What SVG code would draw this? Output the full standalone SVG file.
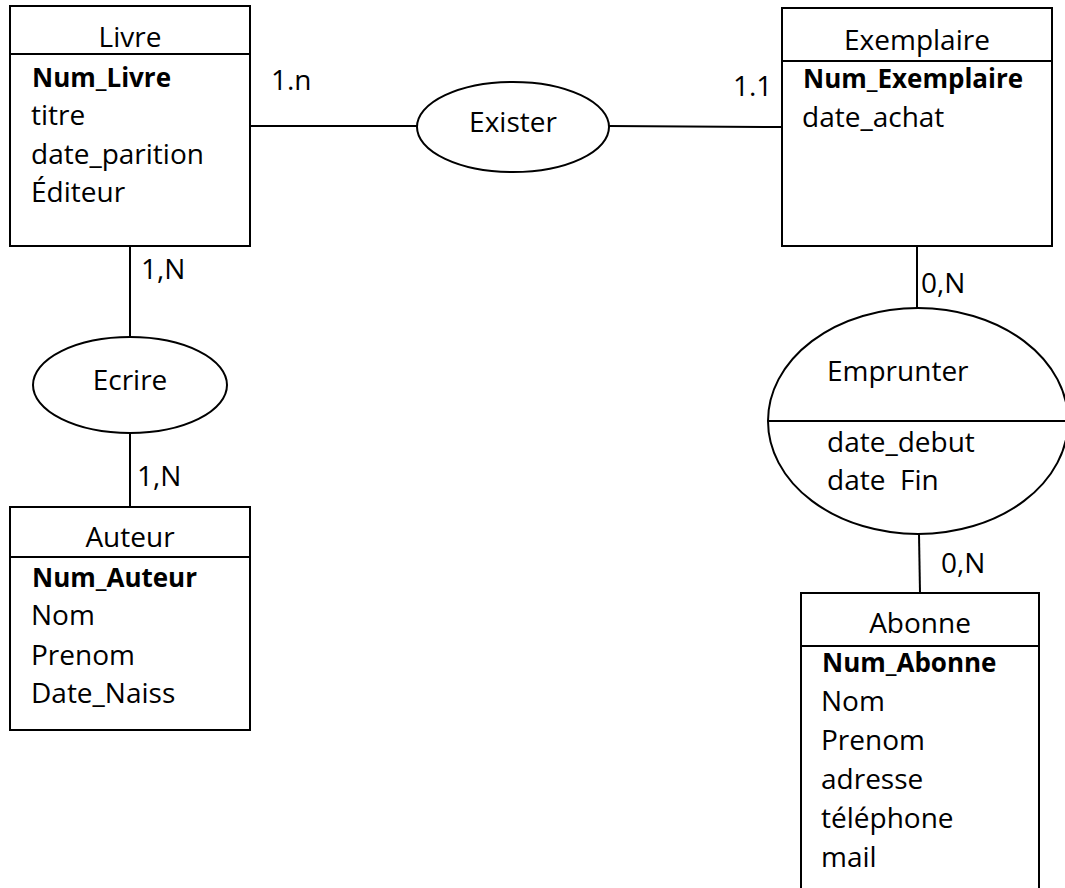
<svg xmlns="http://www.w3.org/2000/svg" width="1065" height="888" viewBox="0 0 1065 888">
<style>
text{font-family:"Open Sans","Liberation Sans",sans-serif;font-size:28px;fill:#000}
.t{text-anchor:middle}
.b{font-weight:bold;font-size:26px}
.box{fill:#fff;stroke:#000;stroke-width:2}
.ell{fill:#fff;stroke:#000;stroke-width:2}
.ln{stroke:#000;stroke-width:2;fill:none}
</style>
<rect width="1065" height="888" fill="#fff"/>
<g id="connectors">
<line class="ln" x1="250" y1="126" x2="417" y2="126"/>
<line class="ln" x1="609" y1="126" x2="783" y2="127"/>
<line class="ln" x1="130" y1="246" x2="130" y2="337"/>
<line class="ln" x1="130" y1="433" x2="130" y2="507"/>
<line class="ln" x1="917" y1="246" x2="917" y2="308"/>
<line class="ln" x1="919" y1="534" x2="920" y2="593"/>
<text x="271" y="90">1.n</text>
<text x="733" y="96">1.1</text>
<text x="141" y="279">1,N</text>
<text x="137" y="486">1,N</text>
<text x="921" y="293">0,N</text>
<text x="941" y="573">0,N</text>
</g>
<g id="livre">
<rect class="box" x="10" y="6" width="240" height="240"/>
<line class="ln" x1="10" y1="54" x2="250" y2="54"/>
<text class="t" x="130" y="47">Livre</text>
<text class="b" x="32" y="87">Num_Livre</text>
<text x="31" y="125">titre</text>
<text x="31" y="164">date_parition</text>
<text x="31" y="202">Éditeur</text>
</g>
<g id="exister">
<ellipse class="ell" cx="513" cy="127" rx="96" ry="45"/>
<text class="t" x="513" y="132">Exister</text>
</g>
<g id="exemplaire">
<rect class="box" x="782" y="8" width="270" height="238"/>
<line class="ln" x1="782" y1="61" x2="1052" y2="61"/>
<text class="t" x="917" y="50">Exemplaire</text>
<text class="b" x="803" y="88">Num_Exemplaire</text>
<text x="802" y="127">date_achat</text>
</g>
<g id="ecrire">
<ellipse class="ell" cx="130" cy="385" rx="97" ry="48"/>
<text class="t" x="130" y="390">Ecrire</text>
</g>
<g id="auteur">
<rect class="box" x="10" y="507" width="240" height="223"/>
<line class="ln" x1="10" y1="557" x2="250" y2="557"/>
<text class="t" x="130" y="547">Auteur</text>
<text class="b" x="32" y="587">Num_Auteur</text>
<text x="31" y="625">Nom</text>
<text x="31" y="665">Prenom</text>
<text x="31" y="703">Date_Naiss</text>
</g>
<g id="emprunter">
<ellipse class="ell" cx="918" cy="421" rx="150" ry="113"/>
<line class="ln" x1="769" y1="421" x2="1065" y2="421"/>
<text x="827" y="381">Emprunter</text>
<text x="827" y="452">date_debut</text>
<text x="827" y="490" xml:space="preserve">date  Fin</text>
</g>
<g id="abonne">
<rect class="box" x="801" y="593" width="238" height="310"/>
<line class="ln" x1="801" y1="646" x2="1039" y2="646"/>
<text class="t" x="920" y="633">Abonne</text>
<text class="b" x="822" y="672">Num_Abonne</text>
<text x="821" y="711">Nom</text>
<text x="821" y="750">Prenom</text>
<text x="821" y="789">adresse</text>
<text x="821" y="828">téléphone</text>
<text x="821" y="867">mail</text>
</g>
</svg>
